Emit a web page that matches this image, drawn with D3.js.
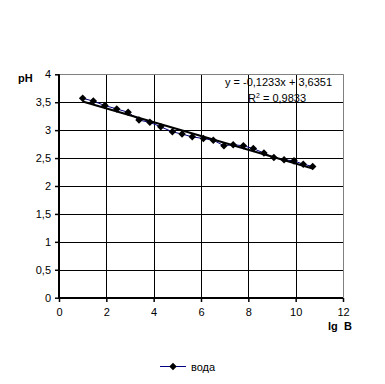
<!DOCTYPE html>
<html><head><meta charset="utf-8">
<script src="https://cdn.jsdelivr.net/npm/d3@7"></script>
<style>body{margin:0;background:#fff}svg{display:block}text{font-family:"Liberation Sans",Arial,sans-serif}</style>
</head><body>
<script>
const xVals = [1.00,1.45,1.94,2.44,2.92,3.38,3.84,4.30,4.79,5.20,5.63,6.10,6.52,6.97,7.36,7.79,8.21,8.66,9.08,9.51,9.93,10.32,10.72];
const phVals = [3.57,3.52,3.44,3.38,3.32,3.18,3.14,3.06,2.97,2.93,2.88,2.85,2.82,2.72,2.74,2.72,2.67,2.59,2.51,2.47,2.45,2.39,2.35];
const xTicks = [0,2,4,6,8,10,12];
const yTicks = [0,0.5,1,1.5,2,2.5,3,3.5,4];
const slope = -0.1233, intercept = 3.6351;
const seriesName = "вода";
const eqText = "y = -0,1233x + 3,6351";
const r2Text = "0,9833";

const W=385,H=384;
const svg=d3.select("body").append("svg").attr("width",W).attr("height",H);
const x=d3.scaleLinear().domain([0,12]).range([59,343]);
const y=d3.scaleLinear().domain([0,4]).range([297.7,74.3]);
const fmt=d=>String(d).replace(".",",");

// grid
svg.append("g").selectAll("line").data(yTicks.slice(1,-1)).join("line")
 .attr("x1",x(0)).attr("x2",x(12)).attr("y1",d=>Math.round(y(d))+0.5).attr("y2",d=>Math.round(y(d))+0.5)
 .attr("stroke","#000").attr("stroke-width",1);
svg.append("g").selectAll("line").data(xTicks.slice(1,-1)).join("line")
 .attr("y1",y(0)).attr("y2",y(4)).attr("x1",d=>Math.round(x(d))+0.5).attr("x2",d=>Math.round(x(d))+0.5)
 .attr("stroke","#000").attr("stroke-width",1);
// border top/right gray
svg.append("line").attr("x1",x(0)).attr("x2",Math.round(x(12))+0.5).attr("y1",Math.round(y(4))+0.5).attr("y2",Math.round(y(4))+0.5).attr("stroke","#808080");
svg.append("line").attr("x1",Math.round(x(12))+0.5).attr("x2",Math.round(x(12))+0.5).attr("y1",y(4)).attr("y2",y(0)).attr("stroke","#808080");

// axes
const yAxis=d3.axisLeft(y).tickValues(yTicks).tickFormat(fmt).tickSize(4).tickPadding(4);
const gy=svg.append("g").attr("transform",`translate(${Math.round(x(0))},0)`).call(yAxis);
const xAxis=d3.axisBottom(x).tickValues(xTicks).tickFormat(fmt).tickSize(4).tickPadding(6);
const gx=svg.append("g").attr("transform",`translate(0,${Math.round(y(0))})`).call(xAxis);
[gx,gy].forEach(g=>{g.select(".domain").attr("stroke","#000").attr("stroke-width",2);
 g.selectAll(".tick line").attr("stroke","#000").attr("stroke-width",1.5);
 g.selectAll("text").attr("font-size",11).attr("fill","#000").attr("font-family","Liberation Sans, Arial, sans-serif");});
gy.select(".domain").attr("d",`M-0,${y(4)}V${y(0)+1}`);
gx.select(".domain").attr("d",`M${x(0)-1},0H${x(12)}`);

// series line
const pts=xVals.map((v,i)=>[v,phVals[i]]);
svg.append("path").datum(pts).attr("fill","none").attr("stroke","#000080").attr("stroke-width",1)
 .attr("d",d3.line().x(d=>x(d[0])).y(d=>y(d[1])));
// trendline
const x0=d3.min(xVals),x1=d3.max(xVals);
svg.append("line").attr("x1",x(x0)).attr("y1",y(slope*x0+intercept)).attr("x2",x(x1)).attr("y2",y(slope*x1+intercept))
 .attr("stroke","#000").attr("stroke-width",2);
// markers
const diamond=d3.symbol().type(d3.symbolDiamond2).size(36);
svg.append("g").selectAll("path").data(pts).join("path")
 .attr("transform",d=>`translate(${x(d[0])},${y(d[1])})`).attr("d",diamond).attr("fill","#000");

// equation
svg.append("text").attr("x",225).attr("y",86).attr("font-size",11).text(eqText);
const r=svg.append("text").attr("x",248).attr("y",102).attr("font-size",11);
r.append("tspan").text("R");
r.append("tspan").attr("font-size",7).attr("dy",-4).text("2");
r.append("tspan").attr("dy",4).text(" = "+r2Text);

// axis titles
svg.append("text").attr("x",18).attr("y",82).attr("font-size",11).attr("font-weight","bold").text("pH");
svg.append("text").attr("x",328).attr("y",330).attr("font-size",11).attr("font-weight","bold").attr("xml:space","preserve").text("lg  B");

// legend
svg.append("line").attr("x1",160).attr("x2",186).attr("y1",366.5).attr("y2",366.5).attr("stroke","#000080").attr("stroke-width",1);
svg.append("path").attr("transform","translate(173,366.5)").attr("d",diamond).attr("fill","#000");
svg.append("text").attr("x",191).attr("y",370.5).attr("font-size",11).text(seriesName);
</script>
</body></html>
